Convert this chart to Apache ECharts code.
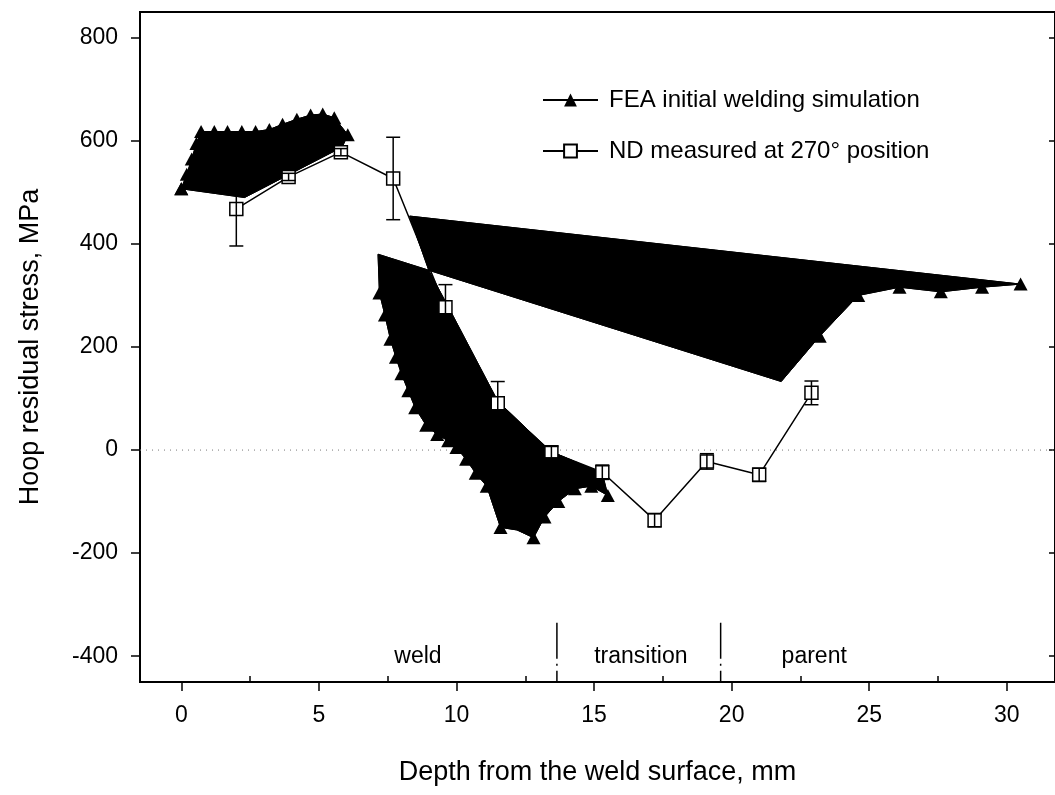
<!DOCTYPE html>
<html><head><meta charset="utf-8">
<script src="https://cdn.jsdelivr.net/npm/echarts@6/dist/echarts.min.js"></script>
<style>html,body{margin:0;padding:0;background:#fff}#c{width:1055px;height:795px}</style>
</head><body><div id="c"></div>
<script>
// ---- data ----
const xTicks = [0, 5, 10, 15, 20, 25, 30];
const xMinorTicks = [2.5, 7.5, 12.5, 17.5, 22.5, 27.5];
const yTicks = [-400, -200, 0, 200, 400, 600, 800];

// ND measured (x, y, error)
const ndX = [2.0, 3.9, 5.8, 7.7, 9.6, 11.5, 13.45, 15.3, 17.2, 19.1, 21.0, 22.9];
const ndY = [468, 530, 578, 527, 277, 91, -4, -43, -136, -22, -48, 111];
const ndErr = [72, 7, 7, 80, 44, 42, 11, 14, 13, 15, 13, 23];

// FEA outline, drawing order: [x, y, triangle shown (1) or plain vertex (0)]
const feaWeld = [
  [0, 507, 1], [0.2, 535, 1], [0.38, 565, 1], [0.55, 595, 1], [0.72, 618, 1],
  [1.2, 618, 1], [1.68, 618, 1], [2.2, 618, 1], [2.7, 618, 1], [3.2, 622, 1],
  [3.68, 632, 1], [4.2, 642, 1], [4.7, 650, 1], [5.14, 652, 1], [5.56, 645, 1],
  [6.05, 612, 1], [5.85, 588, 0], [2.3, 490, 0]
];
const feaDeep = [
  [8.3, 454, 0], [30.5, 322, 1], [29.1, 316, 1], [27.6, 307, 1], [26.1, 316, 1],
  [24.6, 300, 1], [23.2, 221, 1], [21.8, 133, 0], [7.15, 380, 0], [7.2, 305, 1],
  [7.4, 262, 1], [7.6, 215, 1], [7.8, 180, 1], [8.0, 148, 1], [8.25, 115, 1],
  [8.5, 82, 1], [8.9, 48, 1], [9.3, 30, 1], [9.7, 18, 1], [10.0, 5, 1],
  [10.35, -18, 1], [10.7, -45, 1], [11.1, -70, 1], [11.6, -150, 1], [12.2, -155, 0],
  [12.8, -170, 1], [13.2, -130, 1], [13.7, -100, 1], [14.3, -75, 1], [14.9, -70, 1],
  [15.5, -88, 1], [15.3, -45, 0], [13.4, -2, 0], [11.5, 95, 0], [9.8, 268, 0],
  [9.0, 348, 0]
];

// zone dividers and zone labels
const zoneBounds = [13.65, 19.6];
const zoneTop = -335;
const zoneNames = ['weld', 'transition', 'parent'];
const zoneLabelX = [8.6, 16.7, 23.0];
const zoneLabelY = -400;

const X_MIN = -1.5, X_MAX = 31.75, Y_MIN = -450, Y_MAX = 850;
const FEA_NAME = 'FEA initial welding simulation';
const ND_NAME = 'ND measured at 270\u00b0 position';
const FONT = 'Liberation Sans, Arial, sans-serif';

function outlineData(pts) {
  const d = pts.map(p => ({ value: [p[0], p[1]], symbol: p[2] ? 'triangle' : 'none' }));
  d.push({ value: [pts[0][0], pts[0][1]], symbol: pts[0][2] ? 'triangle' : 'none' });
  return d;
}

const chart = echarts.init(document.getElementById('c'), null, { renderer: 'canvas' });
const gridPos = { left: 140, right: 0, top: 12, bottom: 113 };

const option = {
  animation: false,
  backgroundColor: '#fff',
  textStyle: { fontFamily: FONT },
  grid: [
    Object.assign({ show: true, borderColor: '#000', borderWidth: 2, backgroundColor: 'transparent' }, gridPos),
    Object.assign({ show: false }, gridPos)
  ],
  legend: {
    orient: 'vertical', left: 537, top: 83, itemGap: 27,
    itemWidth: 55, itemHeight: 16,
    textStyle: { fontSize: 24, color: '#000', fontFamily: FONT, padding: [0, 0, 0, 6] },
    data: [FEA_NAME, ND_NAME]
  },
  xAxis: [
    {
      type: 'value', gridIndex: 0, min: X_MIN, max: X_MAX,
      splitLine: { show: false },
      axisLine: { show: true, onZero: false, lineStyle: { color: '#000', width: 2 } },
      axisTick: { show: true, inside: false, length: 9, customValues: xTicks, lineStyle: { color: '#000', width: 1.5 } },
      axisLabel: { show: true, customValues: xTicks, margin: 22, fontSize: 23, color: '#000', fontFamily: FONT },
      name: 'Depth from the weld surface, mm', nameLocation: 'middle', nameGap: 77,
      nameTextStyle: { fontSize: 27, color: '#000', fontFamily: FONT }
    },
    {
      type: 'value', gridIndex: 1, min: X_MIN, max: X_MAX, position: 'bottom',
      splitLine: { show: false },
      axisLine: { show: false, onZero: false },
      axisTick: { show: true, inside: true, length: 6, customValues: xMinorTicks, lineStyle: { color: '#000', width: 1.5 } },
      axisLabel: { show: false }
    }
  ],
  yAxis: [
    {
      type: 'value', gridIndex: 0, min: Y_MIN, max: Y_MAX,
      splitLine: { show: false },
      axisLine: { show: true, onZero: false, lineStyle: { color: '#000', width: 2 } },
      axisTick: { show: true, inside: false, length: 9, customValues: yTicks, lineStyle: { color: '#000', width: 1.5 } },
      axisLabel: { show: true, customValues: yTicks, margin: 22, fontSize: 23, color: '#000', fontFamily: FONT },
      name: 'Hoop residual stress, MPa', nameLocation: 'middle', nameGap: 96,
      nameTextStyle: { fontSize: 27, color: '#000', fontFamily: FONT }
    },
    {
      type: 'value', gridIndex: 0, min: Y_MIN, max: Y_MAX, position: 'right',
      splitLine: { show: false },
      axisLine: { show: true, onZero: false, lineStyle: { color: '#000', width: 2 } },
      axisTick: { show: true, inside: true, length: 6, customValues: yTicks, lineStyle: { color: '#000', width: 1.5 } },
      axisLabel: { show: false }
    },
    {
      type: 'value', gridIndex: 1, min: Y_MIN, max: Y_MAX, show: false
    }
  ],
  series: [
    {
      type: 'line', silent: true, symbol: 'none', z: 1,
      data: [[X_MIN, 0], [X_MAX, 0]],
      lineStyle: { color: '#777', width: 1, type: [1, 5] }
    },
    {
      type: 'custom', silent: true, z: 2,
      data: [[0, 0]],
      renderItem: function (params, api) {
        const mk = pts => ({
          type: 'polygon',
          shape: { points: pts.map(p => api.coord([p[0], p[1]])) },
          style: { fill: '#000', stroke: '#000', lineWidth: 1 }
        });
        return { type: 'group', children: [mk(feaWeld), mk(feaDeep)] };
      }
    },
    {
      name: FEA_NAME, type: 'line', z: 3,
      symbol: 'triangle', symbolSize: [14, 13], showSymbol: true,
      itemStyle: { color: '#000' }, lineStyle: { color: '#000', width: 1 },
      data: outlineData(feaWeld)
    },
    {
      name: FEA_NAME, type: 'line', z: 3,
      symbol: 'triangle', symbolSize: [14, 13], showSymbol: true,
      itemStyle: { color: '#000' }, lineStyle: { color: '#000', width: 1 },
      data: outlineData(feaDeep)
    },
    {
      name: ND_NAME, type: 'line', z: 4,
      symbol: 'rect', symbolSize: 13,
      itemStyle: { color: '#fff', borderColor: '#000', borderWidth: 1.5 },
      lineStyle: { color: '#000', width: 1.5 },
      data: ndX.map((x, i) => [x, ndY[i]])
    },
    {
      type: 'custom', silent: true, z: 5,
      data: ndX.map((x, i) => [x, ndY[i] - ndErr[i], ndY[i] + ndErr[i]]),
      renderItem: function (params, api) {
        const lo = api.coord([api.value(0), api.value(1)]);
        const hi = api.coord([api.value(0), api.value(2)]);
        const w = 7;
        const st = { stroke: '#000', lineWidth: 1.5 };
        return {
          type: 'group', children: [
            { type: 'line', shape: { x1: lo[0], y1: lo[1], x2: hi[0], y2: hi[1] }, style: st },
            { type: 'line', shape: { x1: lo[0] - w, y1: lo[1], x2: lo[0] + w, y2: lo[1] }, style: st },
            { type: 'line', shape: { x1: hi[0] - w, y1: hi[1], x2: hi[0] + w, y2: hi[1] }, style: st }
          ]
        };
      }
    },
    ...zoneBounds.map(b => ({
      type: 'line', silent: true, symbol: 'none', z: 2,
      data: [[b, zoneTop], [b, Y_MIN]],
      lineStyle: { color: '#000', width: 1.5, type: [36, 5, 2, 5] }
    })),
    {
      type: 'scatter', silent: true, symbolSize: 0, z: 6,
      itemStyle: { opacity: 1 },
      data: zoneNames.map((n, i) => ({ value: [zoneLabelX[i], zoneLabelY], name: n })),
      label: { show: true, position: 'inside', formatter: p => p.name, fontSize: 23, color: '#000', opacity: 1, textBorderWidth: 0, fontFamily: FONT }
    }
  ]
};
chart.setOption(option);
</script>
</body></html>
